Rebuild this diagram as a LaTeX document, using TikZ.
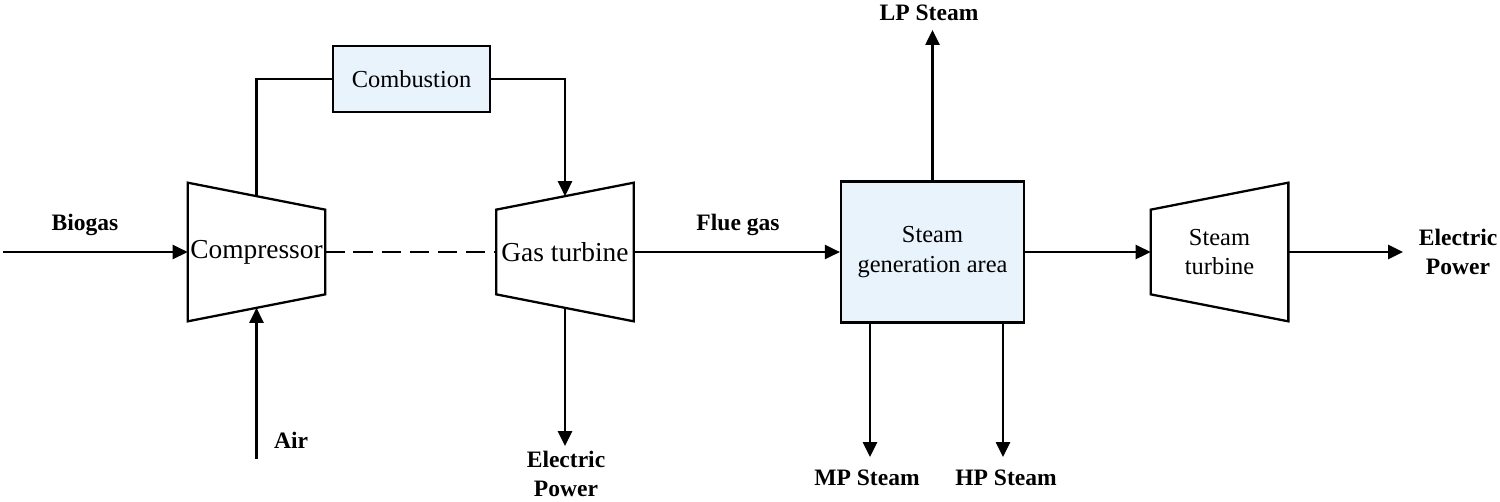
\documentclass[tikz,border=0pt]{standalone}
\usepackage{fontspec}
\setmainfont{Liberation Serif}
\usetikzlibrary{positioning,calc,arrows.meta}
\tikzstyle{flowsheet} = [x = .02cm, y = -.02cm]
\definecolor{unitFill}{RGB}{232,243,252}
\tikzstyle{lineStyle} = [color=black, line width=1.3pt]
\tikzstyle{flowArrow} = [lineStyle, -{Triangle[length=8.5pt, width=8pt]}]
\tikzstyle{unitBox} = [draw, lineStyle, fill=unitFill, align=center, inner sep=0pt, font=\fontsize{13.9}{17}\selectfont]
\tikzstyle{machineText} = [inner sep=0pt, minimum width=2.74cm, minimum height=2.76cm, align=center]
\tikzstyle{streamLabel} = [font=\fontsize{13.4}{16.5}\selectfont\bfseries, align=center, inner sep=0pt]
\newcommand{\taper}{27}
% wide side on the left
\newcommand{\compressorShape}[1]{
  \draw [lineStyle] (#1.north west) -- ($(#1.north east) + (0,\taper)$) -- ($(#1.south east) + (0,-\taper)$) -- (#1.south west) -- cycle;
  \coordinate (#1Top) at ($(#1.north) + (0,\taper/2)$);
  \coordinate (#1Bottom) at ($(#1.south) + (0,-\taper/2)$);
}
% wide side on the right
\newcommand{\turbineShape}[1]{
  \draw [lineStyle] ($(#1.north west) + (0,\taper)$) -- (#1.north east) -- (#1.south east) -- ($(#1.south west) + (0,-\taper)$) -- cycle;
  \coordinate (#1Top) at ($(#1.north) + (0,\taper/2)$);
  \coordinate (#1Bottom) at ($(#1.south) + (0,-\taper/2)$);
}

\begin{document}
\begin{tikzpicture}[flowsheet]
  \useasboundingbox (0,0) rectangle (1500,501);

  \node [machineText, font=\fontsize{15.6}{18}\selectfont] (compressor) at (256.5,252) {Compressor};
  \node [machineText, font=\fontsize{15.6}{18}\selectfont] (gasTurbine) at (565,252) {Gas turbine};
  \node [machineText, font=\fontsize{13.9}{17}\selectfont] (steamTurbine) at (1219.5,252) {Steam\\turbine};
  \compressorShape{compressor}
  \turbineShape{gasTurbine}
  \turbineShape{steamTurbine}

  \node [unitBox, minimum width=3.14cm, minimum height=1.32cm] (combustion) at (411.5,79) {Combustion};
  \node [unitBox, minimum width=3.66cm, minimum height=2.82cm] (steamArea) at (932.5,252) {Steam\\generation area};

  \coordinate (biogasIn) at (3,252);
  \coordinate (airIn) at (256.5,459);
  \coordinate (gasPowerOut) at (565,446);
  \coordinate (lpOut) at (932.5,30);
  \coordinate (mpOut) at (870,457);
  \coordinate (hpOut) at (1003,457);
  \coordinate (steamPowerOut) at (1403,252);

  \draw [flowArrow] (biogasIn) -- (compressor.west);
  \draw [flowArrow] (airIn) -- (compressorBottom);
  \draw [lineStyle] (compressorTop) |- (combustion.west);
  \draw [flowArrow] (combustion.east) -| (gasTurbineTop);
  \draw [lineStyle, dash pattern=on 11pt off 5pt] (compressor.east) -- (gasTurbine.west);
  \draw [flowArrow] (gasTurbineBottom) -- (gasPowerOut);
  \draw [flowArrow] (gasTurbine.east) -- (steamArea.west);
  \draw [flowArrow] (steamArea.north) -- (lpOut);
  \draw [flowArrow] (mpOut |- steamArea.south) -- (mpOut);
  \draw [flowArrow] (hpOut |- steamArea.south) -- (hpOut);
  \draw [flowArrow] (steamArea.east) -- (steamTurbine.west);
  \draw [flowArrow] (steamTurbine.east) -- (steamPowerOut);

  \node [streamLabel] (biogasLabel) at (85,225) {Biogas};
  \node [streamLabel] (airLabel) at (291,440) {Air};
  \node [streamLabel] (flueLabel) at (738,225) {Flue gas};
  \node [streamLabel] (lpLabel) at (929,13) {LP Steam};
  \node [streamLabel] (mpLabel) at (867,478) {MP Steam};
  \node [streamLabel] (hpLabel) at (1006,478) {HP Steam};
  \node [streamLabel] (gasPowerLabel) at (566,474) {Electric\\Power};
  \node [streamLabel] (steamPowerLabel) at (1458,252) {Electric\\Power};
\end{tikzpicture}
\end{document}
